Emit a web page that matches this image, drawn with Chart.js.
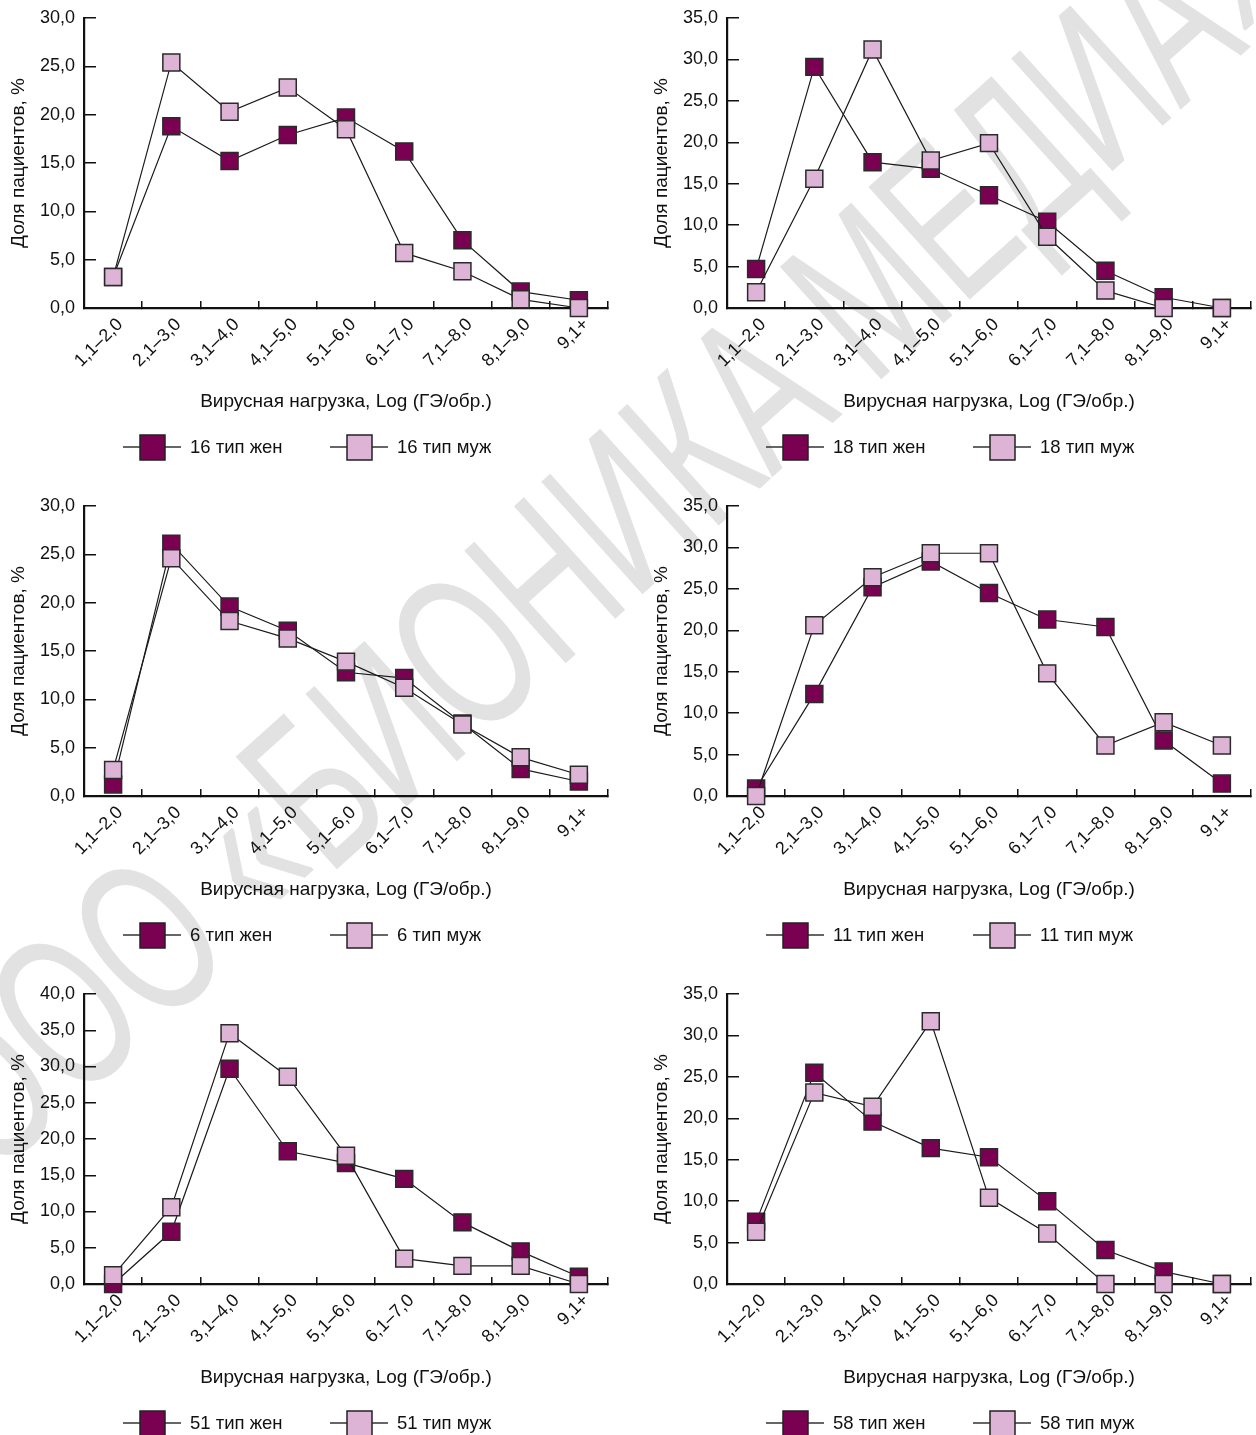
<!DOCTYPE html>
<html lang="ru">
<head>
<meta charset="UTF-8">
<title>Вирусная нагрузка по типам ВПЧ</title>
<script src="https://cdn.jsdelivr.net/npm/chart.js"></script>
<style>
    html, body {
        margin: 0;
        padding: 0;
        background: #fff;
    }
    body {
        position: relative;
        width: 1256px;
        height: 1435px;
        overflow: hidden;
        font-family: "Liberation Sans", Arial, sans-serif;
    }
    .panel {
        position: absolute;
        width: 628px;
        height: 488px;
        z-index: 1;
    }
    .watermark {
        position: absolute;
        left: 600px;
        top: 530px;
        transform: translate(-50%, -50%) rotate(-42deg) scaleX(0.65);
        font-family: "Liberation Sans", Arial, sans-serif;
        font-size: 220px;
        line-height: 1;
        color: #e2e2e2;
        white-space: nowrap;
        z-index: 0;
    }
</style>
</head>
<body>

<div class="watermark">ООО «БИОНИКА МЕДИА»</div>

<div class="panel" style="left:0; top:0"><canvas id="c16" width="628" height="488"></canvas></div>
<div class="panel" style="left:643px; top:0"><canvas id="c18" width="628" height="488"></canvas></div>
<div class="panel" style="left:0; top:488px"><canvas id="c6" width="628" height="488"></canvas></div>
<div class="panel" style="left:643px; top:488px"><canvas id="c11" width="628" height="488"></canvas></div>
<div class="panel" style="left:0; top:976px"><canvas id="c51" width="628" height="488"></canvas></div>
<div class="panel" style="left:643px; top:976px"><canvas id="c58" width="628" height="488"></canvas></div>

<script>
// categories of viral load
const categories = ['1,1–2,0', '2,1–3,0', '3,1–4,0', '4,1–5,0', '5,1–6,0',
                    '6,1–7,0', '7,1–8,0', '8,1–9,0', '9,1+'];

// share of patients, %
const women16 = [3.2, 18.8, 15.2, 17.9, 19.7, 16.2, 7.0, 1.7, 0.8];
const men16   = [3.2, 25.4, 20.3, 22.8, 18.5, 5.7, 3.8, 0.9, 0.0];
const women18 = [4.7, 29.1, 17.6, 16.8, 13.6, 10.4, 4.5, 1.3, 0.0];
const men18   = [1.9, 15.6, 31.2, 17.8, 19.9, 8.6, 2.1, 0.0, 0.0];
const women6  = [1.2, 26.1, 19.6, 17.1, 12.8, 12.2, 7.5, 2.8, 1.5];
const men6    = [2.7, 24.6, 18.1, 16.3, 13.9, 11.2, 7.4, 4.0, 2.2];
const women11 = [0.9, 12.3, 25.2, 28.3, 24.5, 21.3, 20.4, 6.7, 1.5];
const men11   = [0.0, 20.6, 26.4, 29.3, 29.3, 14.8, 6.1, 8.9, 6.1];
const women51 = [0.0, 7.2, 29.7, 18.3, 16.7, 14.5, 8.5, 4.5, 1.0];
const men51   = [1.2, 10.6, 34.6, 28.6, 17.7, 3.5, 2.5, 2.5, 0.0];
const women58 = [7.5, 25.5, 19.6, 16.4, 15.3, 10.0, 4.1, 1.5, 0.0];
const men58   = [6.3, 23.1, 21.4, 31.7, 10.4, 6.1, 0.0, 0.0, 0.0];

// y axis maximum for each chart
const yMax16 = 30, yMax18 = 35, yMax6 = 30, yMax11 = 35, yMax51 = 40, yMax58 = 35;

const xTitle = 'Вирусная нагрузка, Log (ГЭ/обр.)';
const yTitle = 'Доля пациентов, %';

const darkColor = '#7a0052';
const lightColor = '#ddb4d6';
const FONT = '"Liberation Sans", Arial, sans-serif';

// legend: line with square marker, like the original
const sampleLegend = {
    id: 'sampleLegend',
    afterDraw(chart) {
        const ctx = chart.ctx;
        const y = chart.chartArea.bottom + 139;
        const starts = [123, 330];
        chart.data.datasets.forEach((ds, i) => {
            const x0 = starts[i];
            ctx.save();
            ctx.strokeStyle = '#333';
            ctx.lineWidth = 1.5;
            ctx.beginPath();
            ctx.moveTo(x0, y);
            ctx.lineTo(x0 + 58, y);
            ctx.stroke();
            ctx.fillStyle = ds.pointBackgroundColor;
            ctx.fillRect(x0 + 17, y - 12, 25, 25);
            ctx.strokeStyle = '#222';
            ctx.strokeRect(x0 + 17, y - 12, 25, 25);
            ctx.fillStyle = '#111';
            ctx.font = '18.5px ' + FONT;
            ctx.textBaseline = 'middle';
            ctx.fillText(ds.label, x0 + 67, y + 1);
            ctx.restore();
        });
    }
};

function series(label, data, color, order) {
    return {
        label: label,
        data: data,
        borderColor: '#1a1a1a',
        borderWidth: 1.2,
        tension: 0,
        fill: false,
        clip: false,
        order: order,
        pointStyle: 'rect',
        pointRadius: 12,
        pointBackgroundColor: color,
        pointBorderColor: '#2a2a2a',
        pointBorderWidth: 1.5
    };
}

function makeChart(id, type, women, men, yMax) {
    new Chart(document.getElementById(id), {
        type: 'line',
        data: {
            labels: categories,
            datasets: [
                series(type + ' тип жен', women, darkColor, 1),
                series(type + ' тип муж', men, lightColor, 0)
            ]
        },
        options: {
            responsive: false,
            animation: false,
            events: [],
            layout: { padding: { left: 0, right: 20, top: 18, bottom: 71 } },
            plugins: {
                legend: { display: false },
                tooltip: { enabled: false }
            },
            scales: {
                x: {
                    offset: true,
                    grid: { offset: true, drawOnChartArea: false, tickLength: -7, color: '#111', lineWidth: 1.5 },
                    border: { color: '#111', width: 2.2 },
                    ticks: {
                        autoSkip: false, minRotation: 45, maxRotation: 45, padding: 13, labelOffset: 7,
                        color: '#111', font: { family: FONT, size: 18 }
                    },
                    title: {
                        display: true, text: xTitle, color: '#111',
                        font: { family: FONT, size: 19 }, padding: { top: 4, bottom: 4 }
                    },
                    afterFit: s => { s.height = 109; }
                },
                y: {
                    min: 0,
                    max: yMax,
                    grid: { drawOnChartArea: false, tickLength: -12, color: '#111', lineWidth: 1.5 },
                    border: { color: '#111', width: 2.2 },
                    ticks: {
                        stepSize: 5, padding: 21, color: '#111',
                        font: { family: FONT, size: 18 },
                        callback: v => v.toFixed(1).replace('.', ',')
                    },
                    title: {
                        display: true, text: yTitle, color: '#111',
                        font: { family: FONT, size: 19 }, padding: { top: 7, bottom: 0 }
                    },
                    // inward ticks make the label padding large; keep only the label half height
                    afterFit: s => { s.width = 84; s.paddingTop = 11; s.paddingBottom = 11; }
                }
            }
        },
        plugins: [sampleLegend]
    });
}

makeChart('c16', '16', women16, men16, yMax16);
makeChart('c18', '18', women18, men18, yMax18);
makeChart('c6', '6', women6, men6, yMax6);
makeChart('c11', '11', women11, men11, yMax11);
makeChart('c51', '51', women51, men51, yMax51);
makeChart('c58', '58', women58, men58, yMax58);
</script>
</body>
</html>
